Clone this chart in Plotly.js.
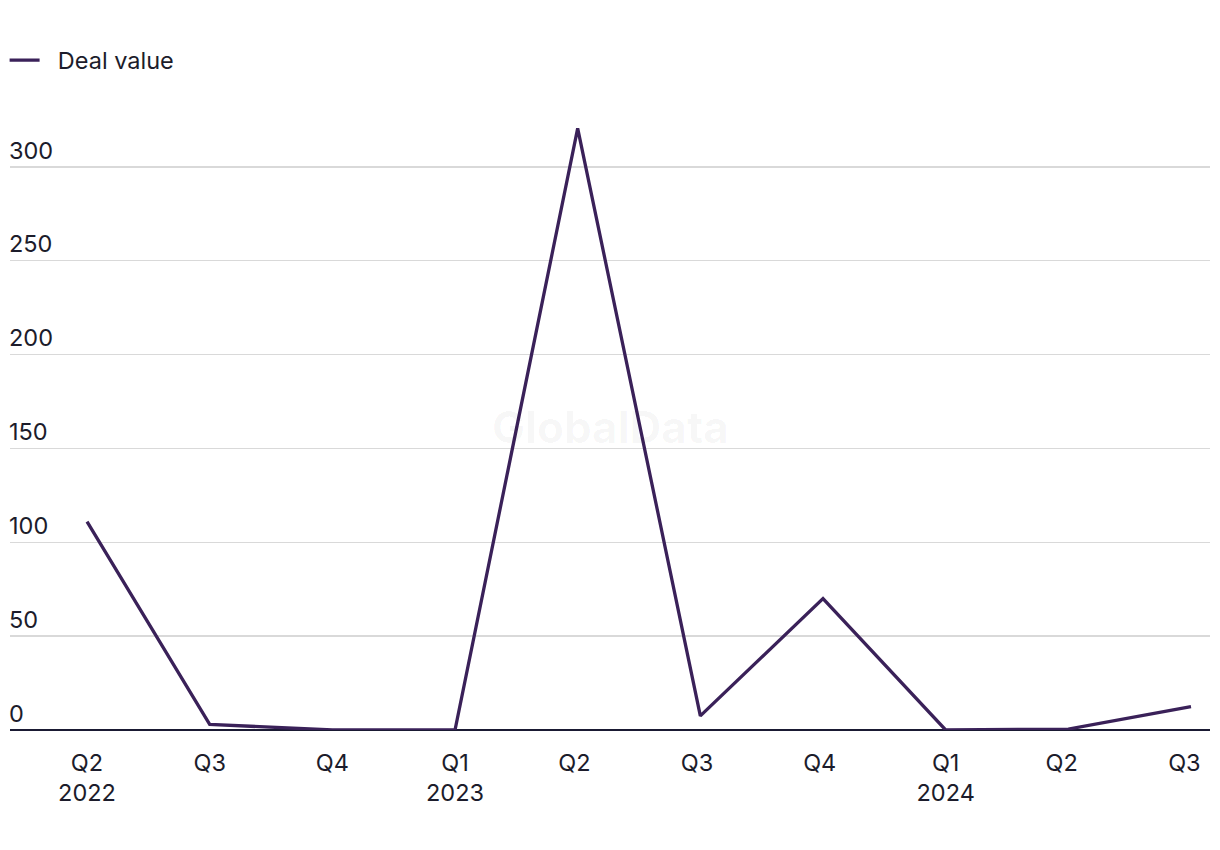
<!DOCTYPE html>
<html>
<head>
<meta charset="utf-8">
<script src="https://cdn.plot.ly/plotly-3.0.1.min.js"></script>
<style>html,body{margin:0;padding:0;background:#fff;}#chart{width:1220px;height:850px;}</style>
</head>
<body>
<div id="chart"></div>
<script>
const categories = ["Q2<br>2022","Q3","Q4","Q1<br>2023","Q2 ","Q3 ","Q4 ","Q1<br>2024","Q2  ","Q3  "];
const dealValue = [111, 3, 0, 0, 320.5, 7.5, 70, 0, 0.5, 12.5];
const yTicks = [0, 50, 100, 150, 200, 250, 300];

const trace = {
  x: categories.map((c, i) => i),
  y: dealValue,
  type: "scatter",
  mode: "lines",
  name: "\u00a0\u00a0Deal value",
  line: {color: "#3a2159", width: 3.3},
  hoverinfo: "skip"
};

const layout = {
  width: 1220, height: 850,
  margin: {l: 10, r: 10, t: 100, b: 120},
  paper_bgcolor: "#fff", plot_bgcolor: "#fff",
  font: {family: "Inter, 'Noto Sans', sans-serif", size: 23.5, color: "#1c1c2b"},
  showlegend: true,
  legend: {x: -0.0045, xref: "paper", yref: "container", yanchor: "top", xanchor: "left",
           orientation: "h", font: {size: 23.5, color: "#1c1c2b"}, itemwidth: 30, y: 0.955},
  xaxis: {
    type: "linear",
    range: [-0.628, 9.155],
    tickmode: "array",
    tickvals: categories.map((c, i) => i),
    ticktext: categories,
    showgrid: false, zeroline: false, showline: false,
    ticks: "", ticklen: 0,
    ticklabelstandoff: 16,
    tickfont: {size: 23.5, color: "#1c1c2b"}
  },
  yaxis: {
    range: [0, 335.6],
    tickmode: "array",
    tickvals: yTicks,
    ticktext: yTicks.map(String),
    ticklabelposition: "inside top",
    ticklabelstandoff: -4,
    showgrid: true, gridcolor: "#d9d9d9", gridwidth: 1.5,
    zeroline: true, zerolinecolor: "#1a1a33", zerolinewidth: 2,
    showline: false, ticks: "",
    tickfont: {size: 23.5, color: "#1c1c2b"}
  },
  annotations: [{
    text: "<b>GlobalData</b>", x: 0.5, y: 0.5, xref: "paper", yref: "paper",
    yshift: -12,
    showarrow: false, font: {size: 44, color: "rgba(0,0,0,0.035)"}
  }]
};

Plotly.newPlot("chart", [trace], layout, {displayModeBar: false, staticPlot: true});
</script>
</body>
</html>
